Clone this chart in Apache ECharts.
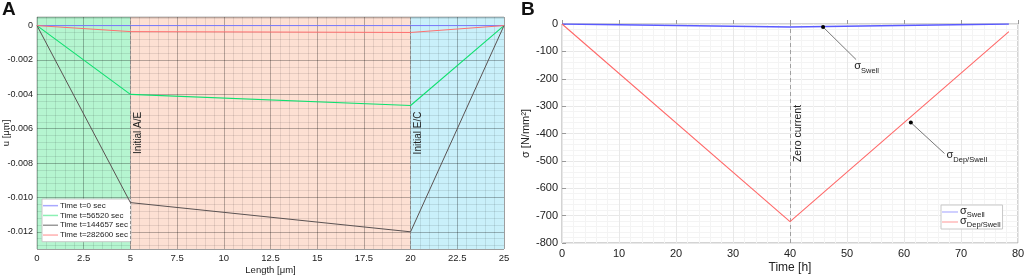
<!DOCTYPE html>
<html>
<head>
<meta charset="utf-8">
<script src="https://cdn.jsdelivr.net/npm/echarts@6/dist/echarts.min.js"></script>
<style>
html,body{margin:0;padding:0;background:#fff;}
#chart{width:1024px;height:275px;}
</style>
</head>
<body>
<div id="chart"></div>
<script>
// ---- Panel A data ----
const lengthX = [0, 5, 20, 25];
const uT0 = [0, 0, 0, 0];
const uT56520 = [0, -0.0040, -0.00465, 0];
const uT144657 = [0, -0.0103, -0.0120, 0];
const uT282600 = [0, -0.00035, -0.0004, 0];
const bandStart = [0, 5, 20];
const bandEnd = [5, 20, 25];
const bandColors = ['#b5f5d0', '#fde0d3', '#c9f0fa'];
const boundaryX = [5, 20];
const boundaryLabels = ['Initial A/E', 'Initial E/C'];
const legendA = ['Time t=0 sec', 'Time t=56520 sec', 'Time t=144657 sec', 'Time t=282600 sec'];

// ---- Panel B data ----
const timeH = [0, 40, 78.4];
const sigmaSwell = [0, -11, 0];
const sigmaDepSwell = [0, -722, -28];
const zeroCurrentT = 40;
// annotation anchors (data coords): point on curve, leader end
const annSwell = [[45.8, -11], [51.6, -130]];
const annDep = [[61.2, -360], [67.1, -473]];

const font = '"Liberation Sans", Arial, sans-serif';
const pair = (xs, ys) => xs.map((x, i) => [x, ys[i]]);

const chart = echarts.init(document.getElementById('chart'), null, {renderer: 'canvas'});

const subRich = {
  s: {fontSize: 11, fontFamily: font, color: '#222', verticalAlign: 'top', lineHeight: 14},
  sub: {fontSize: 7.5, fontFamily: font, color: '#222', verticalAlign: 'bottom', lineHeight: 14}
};

const option = {
  animation: false,
  backgroundColor: '#fff',
  textStyle: {fontFamily: font},
  graphic: [
    {type: 'text', left: 2, top: 0, style: {text: 'A', font: 'bold 19px ' + font, fill: '#111'}},
    {type: 'text', left: 521, top: 0, style: {text: 'B', font: 'bold 19px ' + font, fill: '#111'}}
  ],
  grid: [
    {left: 37, top: 17, width: 467, height: 232, show: true, borderColor: '#b8b8b8', borderWidth: 1,
      backgroundColor: 'transparent', containLabel: false, outerBoundsMode: 'none'},
    {left: 562, top: 24, width: 456, height: 219, show: true, borderColor: '#a8a8a8', borderWidth: 1,
      backgroundColor: '#fff', containLabel: false, outerBoundsMode: 'none'}
  ],
  legend: [
    {
      data: legendA.map((n, i) => ({name: n, itemStyle: {color: ['#a8a8ff', '#8cf0b4', '#9a9a9a', '#ffb0b0'][i]}})),
      left: 42, top: 199, orient: 'vertical', itemGap: 0.5, itemWidth: 15, itemHeight: 1.5, icon: 'rect',
      backgroundColor: '#fff', borderColor: '#c8c8c8', borderWidth: 1, padding: [2, 3, 2, 1],
      textStyle: {fontSize: 8, color: '#222', fontFamily: font, padding: [0, 0, 0, -3], lineHeight: 9.3}
    },
    {
      data: [{name: 'sSwell', itemStyle: {color: '#b0b0ff'}}, {name: 'sDep', itemStyle: {color: '#ffa8a8'}}],
      left: 941, top: 205, orient: 'vertical', itemGap: -4, itemWidth: 16, itemHeight: 1.2, icon: 'rect',
      backgroundColor: '#fff', borderColor: '#c8c8c8', borderWidth: 1, padding: [0, 2, 0, 1],
      formatter: n => n === 'sSwell' ? '{s|σ}{sub|Swell}' : '{s|σ}{sub|Dep/Swell}',
      textStyle: {rich: subRich, padding: [0, 0, 0, -3]}
    }
  ],
  xAxis: [
    {
      gridIndex: 0, type: 'value', min: 0, max: 25, interval: 2.5, z: 2,
      name: 'Length [μm]', nameLocation: 'middle', nameGap: 16, nameMoveOverlap: false,
      nameTextStyle: {fontSize: 9.5, color: '#222', fontFamily: font},
      axisLine: {show: false}, axisTick: {show: false},
      axisLabel: {fontSize: 9.5, color: '#222', margin: 4, fontFamily: font},
      splitLine: {show: true, lineStyle: {color: 'rgba(0,0,0,0.28)', width: 1}},
      minorTick: {show: false, splitNumber: 5},
      minorSplitLine: {show: true, lineStyle: {color: 'rgba(0,0,0,0.09)', width: 1}}
    },
    {
      gridIndex: 1, type: 'value', min: 0, max: 80, interval: 10,
      name: 'Time [h]', nameLocation: 'middle', nameGap: 19, nameMoveOverlap: false,
      nameTextStyle: {fontSize: 12, color: '#222', fontFamily: font},
      axisLine: {show: false}, axisTick: {show: true, inside: true, length: 4, lineStyle: {color: '#999'}},
      axisLabel: {fontSize: 11, color: '#222', margin: 5, fontFamily: font},
      splitLine: {show: true, lineStyle: {color: '#e8e8e8', width: 1}},
      minorTick: {show: false, splitNumber: 5},
      minorSplitLine: {show: true, lineStyle: {color: '#f4f4f4', width: 1}}
    }
  ],
  yAxis: [
    {
      gridIndex: 0, type: 'value', min: -0.013, max: 0.0005, splitNumber: 7, z: 2,
      name: 'u [μm]', nameLocation: 'middle', nameGap: 26, nameRotate: 90, nameMoveOverlap: false,
      nameTextStyle: {fontSize: 9.5, color: '#222', fontFamily: font},
      axisLine: {show: false}, axisTick: {show: false},
      axisLabel: {fontSize: 9, color: '#222', margin: 4, fontFamily: font, showMinLabel: false, showMaxLabel: false,
        formatter: v => (Math.abs(v) < 1e-9 ? '0' : v.toFixed(3))},
      splitLine: {show: true, lineStyle: {color: 'rgba(0,0,0,0.28)', width: 1}},
      minorTick: {show: false, splitNumber: 5},
      minorSplitLine: {show: true, lineStyle: {color: 'rgba(0,0,0,0.09)', width: 1}}
    },
    {
      gridIndex: 1, type: 'value', min: -800, max: 0, interval: 100,
      name: 'σ [N/mm²]', nameLocation: 'middle', nameGap: 31, nameRotate: 90, nameMoveOverlap: false,
      nameTextStyle: {fontSize: 11, color: '#222', fontFamily: font},
      axisLine: {show: false}, axisTick: {show: true, inside: true, length: 4, lineStyle: {color: '#999'}},
      axisLabel: {fontSize: 11, color: '#222', margin: 4, fontFamily: font},
      splitLine: {show: true, lineStyle: {color: '#e8e8e8', width: 1}},
      minorTick: {show: false, splitNumber: 5},
      minorSplitLine: {show: true, lineStyle: {color: '#f4f4f4', width: 1}}
    }
  ],
  series: [
    {
      type: 'custom', xAxisIndex: 0, yAxisIndex: 0, z: 1, silent: true,
      data: bandStart.map((s, i) => [s, bandEnd[i], i]),
      renderItem: (params, api) => {
        const cs = params.coordSys;
        const x0 = api.coord([api.value(0), 0])[0];
        const x1 = api.coord([api.value(1), 0])[0];
        return {type: 'rect', shape: {x: x0, y: cs.y, width: x1 - x0, height: cs.height},
          style: {fill: bandColors[api.value(2)]}};
      }
    },
    {
      name: legendA[0], type: 'line', xAxisIndex: 0, yAxisIndex: 0, z: 5, showSymbol: false,
      data: pair(lengthX, uT0), lineStyle: {color: '#7a7aff', width: 1}, itemStyle: {color: '#7a7aff'},
      markLine: {
        silent: true, symbol: 'none', z: 4,
        lineStyle: {color: '#8a8a8a', type: [3, 2], width: 1},
        label: {show: true, position: 'insideMiddleBottom', fontSize: 10, color: '#222', fontFamily: font, distance: 3,
          formatter: p => boundaryLabels[boundaryX.indexOf(p.value)]},
        data: boundaryX.map(x => ({xAxis: x}))
      }
    },
    {
      name: legendA[1], type: 'line', xAxisIndex: 0, yAxisIndex: 0, z: 5, showSymbol: false,
      data: pair(lengthX, uT56520), lineStyle: {color: '#10e070', width: 1.1}, itemStyle: {color: '#10e070'}
    },
    {
      name: legendA[2], type: 'line', xAxisIndex: 0, yAxisIndex: 0, z: 5, showSymbol: false,
      data: pair(lengthX, uT144657), lineStyle: {color: '#5a5252', width: 1}, itemStyle: {color: '#5a5252'}
    },
    {
      name: legendA[3], type: 'line', xAxisIndex: 0, yAxisIndex: 0, z: 5, showSymbol: false,
      data: pair(lengthX, uT282600), lineStyle: {color: '#ff7070', width: 1}, itemStyle: {color: '#ff7070'}
    },
    {
      name: 'sSwell', type: 'line', xAxisIndex: 1, yAxisIndex: 1, z: 5, showSymbol: false,
      data: pair(timeH, sigmaSwell), lineStyle: {color: '#5a5aff', width: 1.4}, itemStyle: {color: '#5a5aff'},
      markLine: {
        silent: true, symbol: 'none', z: 4,
        lineStyle: {color: '#a0a0a0', type: [4, 3], width: 1},
        label: {show: true, position: 'insideMiddleBottom', fontSize: 10.5, color: '#222', fontFamily: font, distance: 3,
          formatter: 'Zero current'},
        data: [{xAxis: zeroCurrentT}]
      }
    },
    {
      name: 'sDep', type: 'line', xAxisIndex: 1, yAxisIndex: 1, z: 5, showSymbol: false,
      data: pair(timeH, sigmaDepSwell), lineStyle: {color: '#ff6a6a', width: 1.1}, itemStyle: {color: '#ff6a6a'}
    },
    {
      type: 'line', xAxisIndex: 1, yAxisIndex: 1, z: 6, silent: true,
      lineStyle: {color: '#555', width: 0.8}, itemStyle: {color: '#000'}, symbol: 'circle',
      data: [
        {value: annSwell[0], symbolSize: 4},
        {value: annSwell[1], symbolSize: 0.1, label: {show: true, position: 'right', distance: 0, offset: [-2, 8],
          formatter: '{s|σ}{sub|Swell}', rich: subRich}}
      ]
    },
    {
      type: 'line', xAxisIndex: 1, yAxisIndex: 1, z: 6, silent: true,
      lineStyle: {color: '#555', width: 0.8}, itemStyle: {color: '#000'}, symbol: 'circle',
      data: [
        {value: annDep[0], symbolSize: 4},
        {value: annDep[1], symbolSize: 0.1, label: {show: true, position: 'right', distance: 2, offset: [0, 3],
          formatter: '{s|σ}{sub|Dep/Swell}', rich: subRich}}
      ]
    }
  ]
};
chart.setOption(option);
</script>
</body>
</html>
